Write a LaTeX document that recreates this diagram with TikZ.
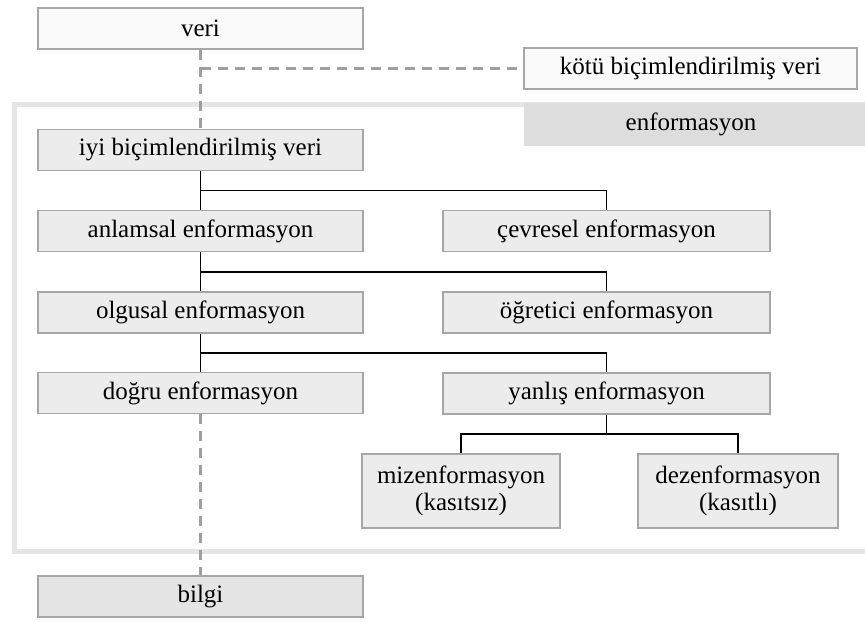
\documentclass[tikz,border=0pt]{standalone}
\usepackage{fontspec}
\setmainfont{Liberation Serif}
\usepackage{tikz}
\usetikzlibrary{calc}
\tikzset{box/.style = {draw = gray!70, line width = 1.2, fill = gray!15, minimum height = 41, inner sep = 0,
                       font = \fontsize{25}{27}\selectfont, align = center}}
\tikzset{plainbox/.style = {box, fill = gray!4}}
\tikzset{tree/.style = {draw, black, line width = 1.8}}
\tikzset{dash line/.style = {draw, gray!75, line width = 2.2, dash pattern = on 10 off 7}}
\tikzset{frame/.style = {draw, gray!20, line width = 5}}

\begin{document}
\begin{tikzpicture}[x = 1pt, y = -1pt]
      \useasboundingbox (0, 0) rectangle (865, 623);

      \draw [frame] (14.5, 105) rectangle (890, 551);
      \fill [gray!27] (524, 103) rectangle (870, 146);
      \node [box, draw = none, fill = none, minimum width = 334, minimum height = 43] (enf) at (691, 124.5) {enformasyon};

      \node [plainbox, minimum width = 325] (veri) at (200.5, 28.5) {veri};
      \node [plainbox, minimum width = 333] (kotu) at (690.5, 68.5) {kötü biçimlendirilmiş veri};

      \node [box, minimum width = 325] (iyi) at (200.5, 150) {iyi biçimlendirilmiş veri};
      \node [box, minimum width = 325] (anlam) at (200.5, 231) {anlamsal enformasyon};
      \node [box, minimum width = 327] (cevre) at (606.5, 231) {çevresel enformasyon};
      \node [box, minimum width = 325] (olgu) at (200.5, 312.5) {olgusal enformasyon};
      \node [box, minimum width = 327] (ogret) at (606.5, 312.5) {öğretici enformasyon};
      \node [box, minimum width = 325] (dogru) at (200.5, 393) {doğru enformasyon};
      \node [box, minimum width = 327] (yanlis) at (606.5, 393.5) {yanlış enformasyon};
      \node [box, minimum width = 198, minimum height = 74] (miz) at (461, 491) {mizenformasyon\\(kasıtsız)};
      \node [box, minimum width = 200, minimum height = 74] (dez) at (738, 491) {dezenformasyon\\(kasıtlı)};
      \node [box, fill = gray!20, minimum width = 325] (bilgi) at (200.5, 596.5) {bilgi};

      \draw [dash line] (veri.south) -- (iyi.north);
      \draw [dash line] (veri.south |- kotu.west) -- (kotu.west);
      \draw [dash line] (dogru.south) -- (bilgi.north);

      \draw [tree] (iyi.south) -- (anlam.north);
      \draw [tree] (anlam.south) -- (olgu.north);
      \draw [tree] (olgu.south) -- (dogru.north);
      \draw [tree] ($(iyi.south)!0.5!(anlam.north)$) -| (cevre.north);
      \draw [tree] ($(anlam.south)!0.5!(olgu.north)$) -| (ogret.north);
      \draw [tree] ($(olgu.south)!0.5!(dogru.north)$) -| (yanlis.north);
      \draw [tree] (yanlis.south) -- ($(yanlis.south)!0.5!(yanlis.south |- miz.north)$) coordinate (fork);
      \draw [tree] (miz.north) |- (fork) -| (dez.north);
    \end{tikzpicture}
\end{document}
